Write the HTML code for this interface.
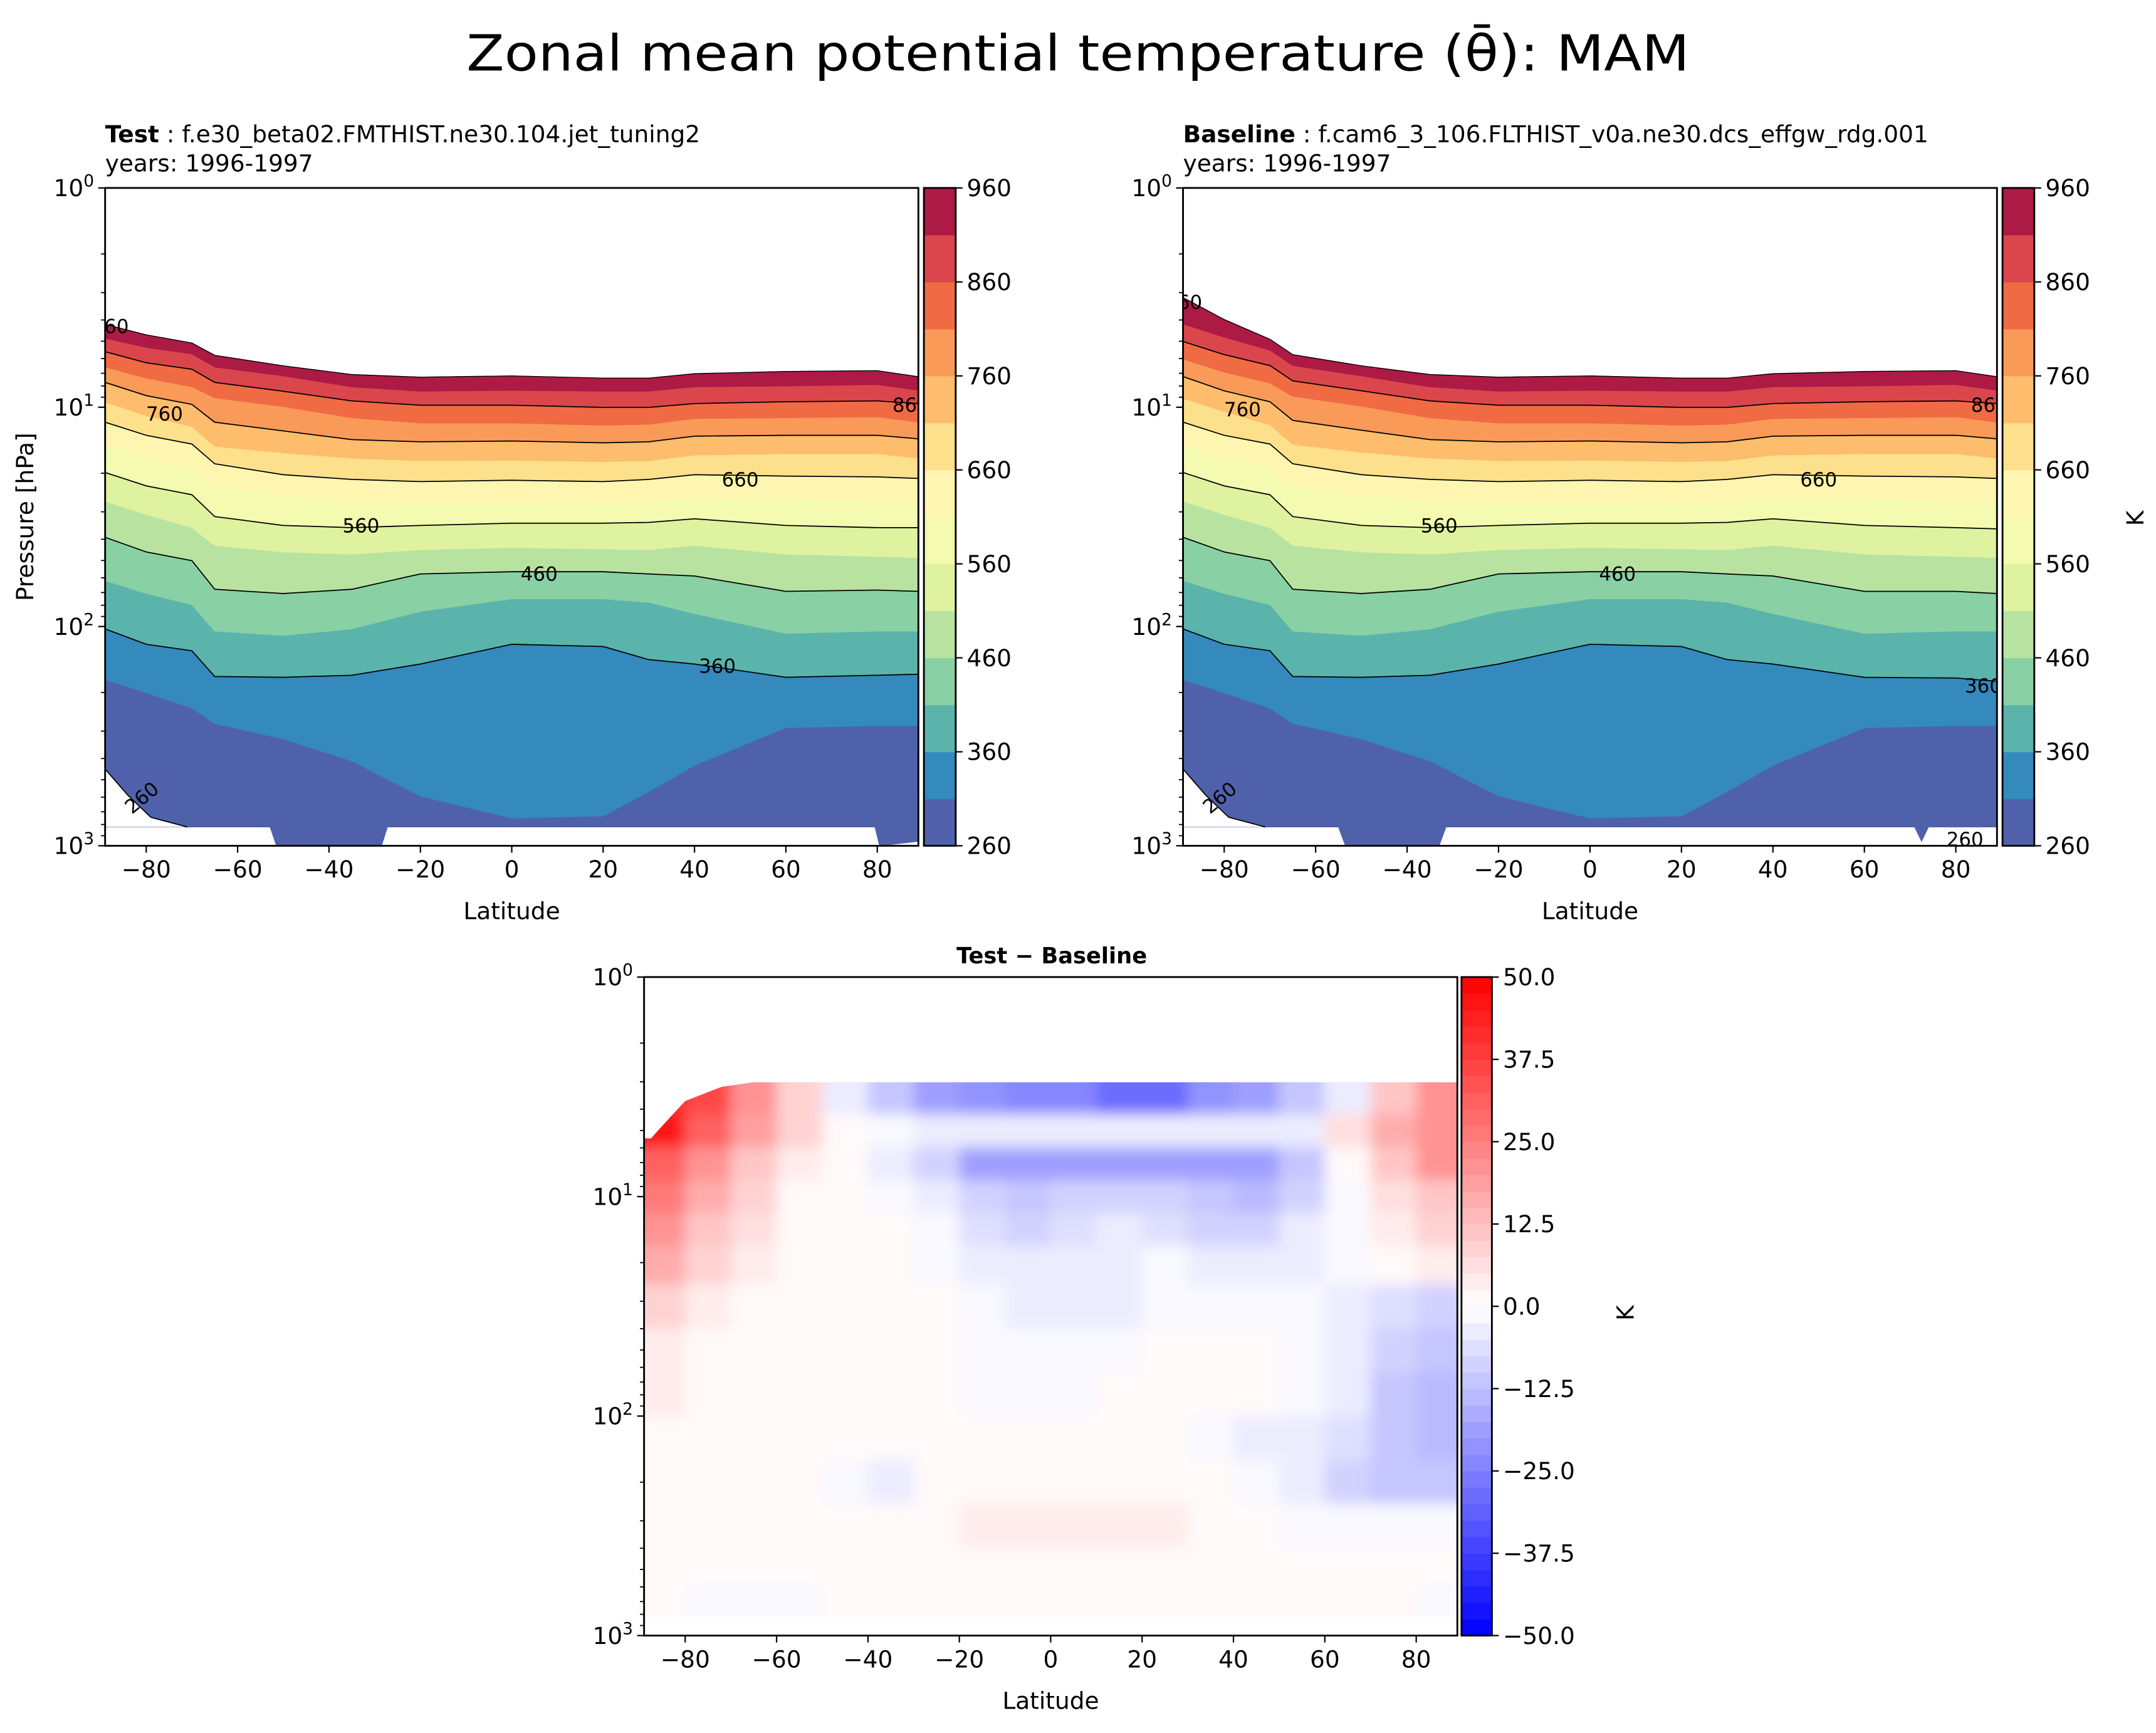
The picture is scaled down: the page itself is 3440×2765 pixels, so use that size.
<!DOCTYPE html>
<html><head><meta charset="utf-8"><style>
html,body{margin:0;padding:0;background:#fff}
svg{display:block}
text{font-family:"DejaVu Sans","Liberation Sans",sans-serif;fill:#000}
</style></head><body>
<svg id="fig" xmlns="http://www.w3.org/2000/svg" width="3440" height="2765" viewBox="0 0 1560 1254">
<defs>
<filter id="blurf" x="-5%" y="-5%" width="110%" height="110%"><feGaussianBlur stdDeviation="5"/></filter>
</defs>
<rect x="0" y="0" width="1560" height="1254" fill="#fff"/>
<text x="780" y="51" font-size="36" text-anchor="middle" textLength="885" lengthAdjust="spacingAndGlyphs">Zonal mean potential temperature (θ̄): MAM</text>
<g id="root"></g>
</svg>
<script>
// ---------- data ----------
const thetaLevels = [260,310,360,410,460,510,560,610,660,710,760,810,860,910,960];
const bandColors = ['#4f61aa','#3489bd','#5ab4ab','#89d0a4','#b8e2a0','#dff2a0','#f4fab0','#fef6b0','#fde08b','#fdbd6c','#fa9a58','#f06a44','#da464c','#ad1a45'];
const lineLevels = [360,460,560,660,760,860];
const lats = [-89,-80,-70,-65,-50,-35,-20,0,20,30,40,60,80,89];
// log10(p) of each theta isoline (310..960) at each latitude — Test
const testB310 = [2.242,2.302,2.372,2.442,2.513,2.613,2.773,2.874,2.864,2.753,2.633,2.462,2.452,2.452];
const testB360 = [2.011,2.081,2.111,2.228,2.232,2.222,2.171,2.081,2.091,2.151,2.171,2.232,2.222,2.218];
const testB410 = [1.790,1.850,1.900,2.021,2.041,2.011,1.931,1.874,1.874,1.890,1.941,2.031,2.021,2.021];
const testB460 = [1.593,1.660,1.700,1.830,1.850,1.830,1.760,1.750,1.750,1.760,1.770,1.840,1.834,1.840];
const testB510 = [1.429,1.489,1.549,1.630,1.660,1.670,1.650,1.640,1.646,1.650,1.630,1.670,1.680,1.686];
const testB560 = [1.298,1.359,1.399,1.499,1.539,1.549,1.539,1.529,1.529,1.525,1.509,1.539,1.549,1.549];
const testB610 = [1.168,1.228,1.278,1.359,1.399,1.429,1.433,1.433,1.437,1.429,1.409,1.419,1.425,1.433];
const testB660 = [1.068,1.128,1.168,1.258,1.308,1.329,1.339,1.333,1.339,1.329,1.308,1.314,1.318,1.325];
const testB710 = [0.977,1.038,1.088,1.178,1.208,1.232,1.244,1.242,1.248,1.244,1.218,1.212,1.212,1.232];
const testB760 = [0.887,0.947,0.987,1.068,1.108,1.148,1.158,1.154,1.162,1.158,1.132,1.128,1.128,1.144];
const testB810 = [0.817,0.867,0.907,0.957,0.997,1.048,1.072,1.072,1.082,1.078,1.052,1.048,1.044,1.068];
const testB860 = [0.747,0.797,0.827,0.887,0.927,0.971,0.991,0.991,1.001,1.001,0.983,0.975,0.971,0.983];
const testB910 = [0.686,0.727,0.757,0.817,0.857,0.907,0.927,0.923,0.927,0.927,0.907,0.903,0.897,0.923];
const testB960 = [0.622,0.670,0.707,0.763,0.811,0.851,0.863,0.857,0.867,0.867,0.847,0.837,0.833,0.861];
// Baseline
const baseB310 = [2.242,2.302,2.372,2.442,2.513,2.613,2.773,2.874,2.864,2.753,2.633,2.462,2.452,2.452];
const baseB360 = [2.011,2.081,2.111,2.228,2.232,2.222,2.171,2.081,2.091,2.151,2.171,2.232,2.235,2.250];
const baseB410 = [1.790,1.850,1.900,2.021,2.041,2.011,1.931,1.874,1.874,1.890,1.941,2.031,2.021,2.021];
const baseB460 = [1.593,1.660,1.700,1.830,1.850,1.830,1.760,1.750,1.750,1.760,1.770,1.840,1.840,1.850];
const baseB510 = [1.429,1.489,1.549,1.630,1.660,1.670,1.650,1.640,1.646,1.650,1.630,1.670,1.680,1.686];
const baseB560 = [1.298,1.359,1.399,1.499,1.539,1.549,1.539,1.529,1.529,1.525,1.509,1.539,1.549,1.555];
const baseB610 = [1.168,1.228,1.278,1.359,1.399,1.429,1.433,1.433,1.437,1.429,1.409,1.419,1.425,1.433];
const baseB660 = [1.068,1.128,1.168,1.258,1.308,1.329,1.339,1.333,1.339,1.329,1.308,1.314,1.318,1.325];
const baseB710 = [0.960,1.020,1.080,1.170,1.205,1.232,1.244,1.242,1.248,1.244,1.218,1.212,1.212,1.232];
const baseB760 = [0.860,0.925,0.975,1.060,1.105,1.148,1.158,1.154,1.162,1.158,1.132,1.128,1.128,1.144];
const baseB810 = [0.780,0.840,0.890,0.950,0.995,1.048,1.072,1.072,1.082,1.078,1.052,1.048,1.044,1.068];
const baseB860 = [0.700,0.760,0.810,0.880,0.925,0.971,0.991,0.991,1.001,1.001,0.983,0.975,0.971,0.983];
const baseB910 = [0.620,0.680,0.740,0.810,0.857,0.907,0.927,0.923,0.927,0.927,0.907,0.903,0.897,0.923];
const baseB960 = [0.500,0.600,0.690,0.760,0.811,0.851,0.863,0.857,0.867,0.867,0.847,0.837,0.833,0.861];
// lower data boundary (surface) in log10(p)
const surfLats = [-89,-52.9,-51.5,-28.5,-27.2,79.5,80.5,89];
const surfLogp = [2.914,2.914,3.0,3.0,2.914,2.914,3.0,2.98];
const baseSurfLats = [-89,-55,-53.5,-33,-31.5,71,72.5,74,89];
const baseSurfLogp = [2.914,2.914,3.0,3.0,2.914,2.914,2.98,2.914,2.914];
const iso260Lats = [-89,-84,-79,-71];
const iso260Logp = [2.65,2.77,2.87,2.914];
// Difference field (K)
const diffLats = [-85,-75,-65,-55,-45,-35,-25,-15,-5,5,15,25,35,45,55,65,75,85];
const diffLogp = [0.55,0.7,0.85,1.0,1.15,1.3,1.5,1.7,1.9,2.1,2.3,2.5,2.7,2.85];
const diffRows = [
 [40,35,20,8,-5,-12,-18,-22,-25,-25,-28,-28,-22,-18,-12,-5,10,20],
 [45,30,18,8,2,-2,-5,-5,-3,-3,-3,-3,-3,-5,-3,5,15,22],
 [30,22,12,3,0,-5,-10,-18,-20,-20,-20,-20,-20,-18,-12,0,12,20],
 [25,15,8,2,0,-2,-5,-10,-12,-10,-8,-10,-12,-14,-8,-2,5,12],
 [20,12,6,2,1,0,-2,-6,-8,-6,-4,-6,-8,-8,-5,-2,3,8],
 [15,8,3,1,1,0,-1,-3,-4,-4,-3,-2,-3,-5,-3,-1,1,3],
 [8,3,1,0.5,1,1,0,-2,-4,-4,-3,-2,-2,-2,-2,-3,-6,-8],
 [4,1,1,1,1,1,0,-1,-2,-2,-1,1,1,1,-1,-5,-10,-12],
 [3,1,1,1,1,1,0,-1,-1,-1,0,1,1,1,-1,-5,-12,-14],
 [2,1,1,1,1,1,1,1,1,1,1,0,-1,-3,-4,-6,-12,-14],
 [1,0,0,0,-1,-3,0,1,1,1,1,1,1,-2,-4,-8,-12,-12],
 [1,1,1,1,1,1,2,3,4,4,4,3,1,0,-1,-2,-2,-2],
 [1,1,1,1,1,1,1,2,2,2,2,2,1,1,0,0,0,0],
 [0,-1,-1,-2,1,1,1,1,1,1,1,1,1,1,0,0,0,-1]
];
const diffTopLats = [-89,-87.5,-84,-80,-72,-65,89];
const diffTopLogp = [0.735,0.735,0.655,0.565,0.50,0.479,0.479];
const xTicks = [-80,-60,-40,-20,0,20,40,60,80];
const yTicksExp = [0,1,2,3];
const cbTicks = [260,360,460,560,660,760,860,960];
const diffCbTicks = [-50,-37.5,-25,-12.5,0,12.5,25,37.5,50];

// ---------- helpers ----------
const NS='http://www.w3.org/2000/svg';
const root=document.getElementById('root');
function el(tag,attrs,parent){const e=document.createElementNS(NS,tag);for(const k in attrs)e.setAttribute(k,attrs[k]);(parent||root).appendChild(e);return e;}
function axisFns(x0,y0,w,h){
  return {x:lat=>x0+(lat+89)/178*w, y:lp=>y0+lp/3*h};
}
function fmtMinus(v,dec){let s=dec?v.toFixed(1):String(v);return s.replace('-','\u2212');}

function drawAxesFrame(g,x0,y0,w,h,xLab,yLab,pfx){
  const A=axisFns(x0,y0,w,h);
  const frame=el('rect',{x:x0,y:y0,width:w,height:h,fill:'none',stroke:'#000','stroke-width':1.3},g);
  
  
  xTicks.forEach(t=>{
    const X=A.x(t);
    el('line',{x1:X,y1:y0+h,x2:X,y2:y0+h+5,stroke:'#000','stroke-width':1},g);
    const tx=el('text',{x:X,y:y0+h+23,'font-size':17,'text-anchor':'middle'},g);
    tx.textContent=fmtMinus(t);
    
    
  });
  yTicksExp.forEach(e=>{
    const Y=A.y(e);
    el('line',{x1:x0-5,y1:Y,x2:x0,y2:Y,stroke:'#000','stroke-width':1},g);
    const tx=el('text',{x:x0-8,y:Y+6,'font-size':17,'text-anchor':'end'},g);
    
    
    tx.textContent='10';
    const s=el('tspan',{dy:-7,'font-size':12},tx);s.textContent=String(e);
    if(e<3){for(let m=2;m<=9;m++){const Ym=A.y(e+Math.log10(m));el('line',{x1:x0-3,y1:Ym,x2:x0,y2:Ym,stroke:'#000','stroke-width':0.8},g);}}
  });
  if(xLab){const t=el('text',{x:x0+w/2,y:y0+h+53,'font-size':17,'text-anchor':'middle'},g);t.textContent=xLab;
    }
  if(yLab){const t=el('text',{x:0,y:0,'font-size':17,'text-anchor':'middle',transform:`translate(${x0-52},${y0+h/2}) rotate(-90)`},g);t.textContent=yLab;
    }
}

function linePts(A,latsArr,vals){return latsArr.map((l,i)=>A.x(l).toFixed(1)+','+A.y(vals[i]).toFixed(1));}

function drawThetaPanel(pfx,x0,y0,w,h,bounds,sLats,sLogp,labelSpecs){
  const g=el('g',{});
  
  
  const A=axisFns(x0,y0,w,h);
  const cid='clip-'+pfx;
  const cp=el('clipPath',{id:cid},g);el('rect',{x:x0,y:y0,width:w,height:h},cp);
  const fg=el('g',{'clip-path':`url(#${cid})`},g);
  let d='M'+linePts(A,sLats,sLogp).join(' L')+' L'+linePts(A,lats,bounds[0]).reverse().join(' L')+'Z';
  const b0=el('path',{d:d,fill:bandColors[0],stroke:bandColors[0],'stroke-width':0.5},fg);
  
  
  for(let k=0;k<bounds.length-1;k++){
    const dd='M'+linePts(A,lats,bounds[k]).join(' L')+' L'+linePts(A,lats,bounds[k+1]).reverse().join(' L')+'Z';
    const p=el('path',{d:dd,fill:bandColors[k+1],stroke:bandColors[k+1],'stroke-width':0.5},fg);
    
    
  }
  const wc='M'+linePts(A,iso260Lats,iso260Logp).join(' L')+` L${A.x(-89)},${A.y(2.914)} Z`;
  const wp=el('path',{d:wc,fill:'#fff'},fg);
  
  
  const l260=el('polyline',{points:linePts(A,iso260Lats,iso260Logp).join(' '),fill:'none',stroke:'#000','stroke-width':0.8},fg);
  
  
  lineLevels.forEach(lv=>{
    const idx=thetaLevels.indexOf(lv)-1;
    const pl=el('polyline',{points:linePts(A,lats,bounds[idx]).join(' '),fill:'none',stroke:'#000','stroke-width':0.8},fg);
    
    
  });
  const top=el('polyline',{points:linePts(A,lats,bounds[bounds.length-1]).join(' '),fill:'none',stroke:'#000','stroke-width':0.6},fg);
  
  
  labelSpecs.forEach(s=>{
    const X=A.x(s[1]),Y=A.y(s[2]);
    const t=el('text',{x:X,y:Y+5,'font-size':14,'text-anchor':'middle',transform:s[3]?`rotate(${s[3]},${X},${Y})`:''},fg);
    t.textContent=s[0];
    
    
  });
  drawAxesFrame(g,x0,y0,w,h,'Latitude',pfx==='test'?'Pressure [hPa]':null,pfx);
  const cx=x0+w+4,cw=23;
  const cb=el('g',{},g);
  
  
  const bh=h/bandColors.length;
  bandColors.forEach((c,i)=>{el('rect',{x:cx,y:y0+h-(i+1)*bh,width:cw,height:bh+0.3,fill:c},cb);});
  el('rect',{x:cx,y:y0,width:cw,height:h,fill:'none',stroke:'#000','stroke-width':1.3},cb);
  cbTicks.forEach(t=>{
    const Y=y0+h-(t-260)/700*h;
    el('line',{x1:cx+cw,y1:Y,x2:cx+cw+5,y2:Y,stroke:'#000','stroke-width':1},cb);
    const tx=el('text',{x:cx+cw+8,y:Y+6,'font-size':17},cb);tx.textContent=String(t);
    
    
  });
  return g;
}

const testBounds=[testB310,testB360,testB410,testB460,testB510,testB560,testB610,testB660,testB710,testB760,testB810,testB860,testB910,testB960];
const baseBounds=[baseB310,baseB360,baseB410,baseB460,baseB510,baseB560,baseB610,baseB660,baseB710,baseB760,baseB810,baseB860,baseB910,baseB960];
drawThetaPanel('test',76,136,588.5,476,testBounds,surfLats,surfLogp,
 [['760',-76,1.03],['560',-33,1.54],['460',6,1.76],['660',50,1.33],['360',45,2.18],['86',86,0.99],['60',-86.5,0.63],['260',-81,2.78,-40]]);
drawThetaPanel('baseline',856,136,589,476,baseBounds,baseSurfLats,baseSurfLogp,
 [['760',-76,1.01],['560',-33,1.54],['460',6,1.76],['660',50,1.33],['360',86,2.27],['86',86,0.99],['60',-87.5,0.52],['260',-81,2.78,-40],['260',82,2.97]]);

function header(x,bold,rest,pfx){
  const t=el('text',{x:x,y:103,'font-size':17});
  
  
  const b=el('tspan',{'font-weight':'bold'},t);b.textContent=bold;
  const r=el('tspan',{},t);r.textContent=' : '+rest;
  const y=el('text',{x:x,y:124,'font-size':17});y.textContent='years: 1996-1997';
  
  
}
header(76,'Test','f.e30_beta02.FMTHIST.ne30.104.jet_tuning2','test');
header(856,'Baseline','f.cam6_3_106.FLTHIST_v0a.ne30.dcs_effgw_rdg.001','baseline');
const kTop=el('text',{x:0,y:0,'font-size':17,'text-anchor':'middle',transform:'translate(1551,375) rotate(-90)'});
kTop.textContent='K';



function bwr(v){
  let q=Math.floor(v/2.5)*2.5+1.25; q=Math.max(-50,Math.min(50,q));
  const t=(q+50)/100;
  let r,g,b;
  if(t<0.5){r=g=2*t;b=1;}else{r=1;g=b=2*(1-t);}
  return `rgb(${Math.round(r*255)},${Math.round(g*255)},${Math.round(b*255)})`;
}
(function(){
  const x0=466,y0=707,w=588.5,h=476.5;
  const g=el('g',{});
  
  
  const A=axisFns(x0,y0,w,h);
  const cp=el('clipPath',{id:'clip-diff'},g);
  const topPts=linePts(A,diffTopLats,diffTopLogp);
  el('polygon',{points:topPts.join(' ')+` ${A.x(89)},${A.y(2.914)} ${A.x(-89)},${A.y(2.914)}`},cp);
  const outer=el('g',{'clip-path':'url(#clip-diff)'},g);
  const cells=el('g',{filter:'url(#blurf)'},outer);
  const nR=diffLogp.length,nC=diffLats.length;
  for(let r=0;r<nR;r++){
    const top=r===0?0.2:(diffLogp[r-1]+diffLogp[r])/2;
    const bot=r===nR-1?3.2:(diffLogp[r]+diffLogp[r+1])/2;
    for(let c=0;c<nC;c++){
      const l=c===0?-110:(diffLats[c-1]+diffLats[c])/2;
      const rr=c===nC-1?110:(diffLats[c]+diffLats[c+1])/2;
      const cell=el('rect',{x:A.x(l),y:A.y(top),width:A.x(rr)-A.x(l)+0.5,height:A.y(bot)-A.y(top)+0.5,fill:bwr(diffRows[r][c])},cells);
      
      
    }
  }
  drawAxesFrame(g,x0,y0,w,h,'Latitude',null,'difference');
  const tt=el('text',{x:761,y:697,'font-size':16,'font-weight':'bold','text-anchor':'middle'},g);
  tt.textContent='Test \u2212 Baseline';
  
  
  const cx=x0+w+3,cw=22;
  const cb=el('g',{},g);
  
  
  const n=40,bh=h/n;
  for(let i=0;i<n;i++){const v=-50+i*2.5+1.25;el('rect',{x:cx,y:y0+h-(i+1)*bh,width:cw,height:bh+0.3,fill:bwr(v)},cb);}
  el('rect',{x:cx,y:y0,width:cw,height:h,fill:'none',stroke:'#000','stroke-width':1.3},cb);
  diffCbTicks.forEach(t=>{
    const Y=y0+h-(t+50)/100*h;
    el('line',{x1:cx+cw,y1:Y,x2:cx+cw+5,y2:Y,stroke:'#000','stroke-width':1},cb);
    const tx=el('text',{x:cx+cw+8,y:Y+6,'font-size':17},cb);tx.textContent=fmtMinus(t,true);
    
    
  });
  const k=el('text',{x:0,y:0,'font-size':17,'text-anchor':'middle',transform:'translate(1182,950) rotate(-90)'},g);
  k.textContent='K';
  
  
})();
</script>
</body></html>
